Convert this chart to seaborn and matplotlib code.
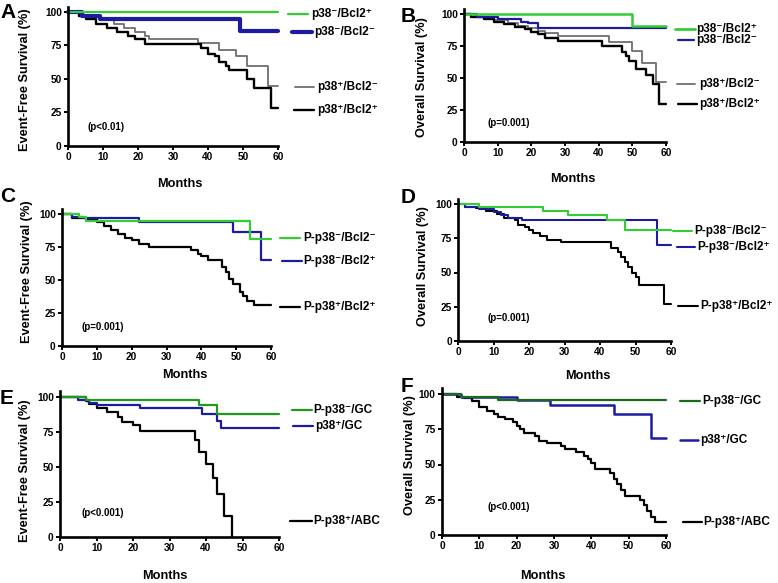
import matplotlib
matplotlib.use("Agg")
import matplotlib.pyplot as plt
from matplotlib.lines import Line2D
import seaborn as sns
import pandas as pd

# ---------------- data (Kaplan-Meier step points: month, survival %) ----------------
A_GREEN_T = [0, 60];                      A_GREEN_S = [100, 100]
A_BLUE_T = [0, 4, 9, 49, 60];              A_BLUE_S = [100, 97, 95, 86, 86]
A_GRAY_T = [0, 3, 6, 9, 13, 16, 19, 22, 23, 37, 43, 48, 51, 57, 60]
A_GRAY_S = [100, 98, 96, 94, 91, 88, 85, 82, 80, 77, 72, 67, 60, 45, 45]
A_BLACK_T = [0, 3, 5, 8, 11, 14, 17, 19, 22, 38, 40, 42, 43, 45, 46, 51, 53, 58, 60]
A_BLACK_S = [100, 97, 95, 91, 88, 85, 82, 80, 76, 73, 69, 67, 63, 60, 57, 50, 43, 28, 28]

B_GREEN_T = [0, 50, 60];                   B_GREEN_S = [100, 91, 91]
B_BLUE_T = [0, 4, 10, 17, 19, 22, 60];     B_BLUE_S = [100, 98, 96, 94, 93, 89, 89]
B_GRAY_T = [0, 3, 6, 9, 13, 16, 19, 22, 24, 28, 43, 50, 53, 57, 60]
B_GRAY_S = [100, 98, 96, 95, 93, 91, 89, 87, 85, 83, 78, 71, 62, 47, 47]
B_BLACK_T = [0, 2, 6, 9, 12, 15, 18, 20, 22, 24, 28, 41, 47, 48, 49, 51, 54, 56, 58, 60]
B_BLACK_S = [100, 98, 96, 94, 92, 90, 88, 86, 84, 81, 79, 75, 70, 67, 63, 57, 52, 45, 30, 30]

C_GREEN_T = [0, 5, 7, 54, 60];             C_GREEN_S = [100, 98, 95, 81, 81]
C_BLUE_T = [0, 3, 6, 22, 49, 57, 60];      C_BLUE_S = [100, 98, 97, 94, 86, 65, 65]
C_BLACK_T = [0, 3, 7, 10, 12, 14, 16, 18, 20, 22, 25, 37, 39, 40, 42, 46, 47, 48, 49, 51, 52, 53, 55, 60]
C_BLACK_S = [100, 97, 96, 94, 91, 88, 85, 82, 80, 77, 75, 73, 70, 68, 65, 60, 56, 51, 47, 41, 38, 34, 31, 31]

D_GREEN_T = [0, 6, 24, 31, 42, 47, 60];    D_GREEN_S = [100, 98, 95, 92, 88, 81, 81]
D_BLUE_T = [0, 2, 6, 10, 12, 14, 18, 56, 60]
D_BLUE_S = [100, 98, 96, 94, 92, 90, 88, 70, 70]
D_BLACK_T = [0, 2, 5, 8, 11, 13, 16, 17, 19, 20, 21, 23, 25, 29, 43, 45, 46, 47, 48, 49, 50, 51, 58, 60]
D_BLACK_S = [100, 98, 97, 95, 93, 90, 88, 85, 83, 81, 79, 77, 74, 72, 68, 65, 61, 58, 54, 50, 47, 41, 27, 27]

E_GREEN_T = [0, 7, 38, 43, 60];            E_GREEN_S = [100, 98, 94, 88, 88]
E_BLUE_T = [0, 5, 8, 10, 22, 39, 43, 44, 60]
E_BLUE_S = [100, 98, 96, 94, 92, 88, 83, 78, 78]
E_BLACK_T = [0, 7, 8, 10, 13, 16, 17, 20, 22, 37, 38, 40, 42, 43, 45, 47]
E_BLACK_S = [100, 97, 95, 92, 89, 86, 82, 80, 76, 69, 61, 52, 42, 31, 15, 0]

F_GREEN_T = [0, 5, 15, 60];                F_GREEN_S = [100, 98, 96, 96]
F_BLUE_T = [0, 5, 20, 29, 46, 56, 60];     F_BLUE_S = [100, 98, 96, 92, 86, 69, 69]
F_BLACK_T = [0, 4, 6, 8, 10, 12, 14, 15, 17, 19, 20, 21, 22, 25, 26, 28, 32, 33, 36, 38,
             39, 40, 41, 45, 46, 47, 48, 49, 53, 54, 55, 56, 57, 60]
F_BLACK_S = [100, 98, 97, 95, 91, 88, 86, 84, 82, 80, 77, 75, 72, 70, 67, 65, 63, 61, 59, 56,
             54, 51, 47, 44, 40, 36, 32, 28, 25, 21, 17, 13, 9, 9]

X_TICKS = [0, 10, 20, 30, 40, 50, 60]
Y_TICKS = [0, 25, 50, 75, 100]

LABELS_AB = ["p38\u207b/Bcl2\u207a", "p38\u207b/Bcl2\u207b", "p38\u207a/Bcl2\u207b", "p38\u207a/Bcl2\u207a"]
LABELS_CD = ["P-p38\u207b/Bcl2\u207b", "P-p38\u207b/Bcl2\u207a", "P-p38\u207a/Bcl2\u207a"]
LABELS_EF = ["P-p38\u207b/GC", "p38\u207a/GC", "P-p38\u207a/ABC"]
P_VALUES = ["(p<0.01)", "(p=0.001)", "(p=0.001)", "(p=0.001)", "(p<0.001)", "(p<0.001)"]
Y_LABELS = ["Event-Free Survival (%)", "Overall Survival (%)"] * 3
PANEL_LETTERS = ["A", "B", "C", "D", "E", "F"]

# ---------------- style ----------------
sns.set_style("ticks")
plt.rcParams["font.family"] = ["Liberation Sans", "DejaVu Sans"]
plt.rcParams["font.weight"] = "bold"
for key in ["text.color", "axes.labelcolor", "xtick.color", "ytick.color", "axes.edgecolor"]:
    plt.rcParams[key] = "black"

W, H = 778, 583
fig = plt.figure(figsize=(W / 100, H / 100), dpi=100)
fig.patch.set_facecolor("white")

GREEN = "#33cc33"
GREEN_E = "#1f9a1f"
GREEN_F = "#1b6b1b"
BLUE = "#1c1ca0"
GRAY = "#6e6e6e"
BLACK = "#000000"
YTOP = 104


def fx(x):
    return x / W


def fy(y):
    return 1 - y / H


def make_axes(x0, x60, y0, y100):
    top = y100 - (YTOP - 100) / 100 * (y0 - y100)
    ax = fig.add_axes([fx(x0), fy(y0), (x60 - x0) / W, (y0 - top) / H])
    ax.set_xlim(0, 60)
    ax.set_ylim(0, YTOP)
    ax.set_xticks(X_TICKS)
    ax.set_yticks(Y_TICKS)
    sns.despine(ax=ax)
    for s in ["left", "bottom"]:
        ax.spines[s].set_linewidth(1.9)
        ax.spines[s].set_color("black")
    ax.tick_params(direction="out", length=3, width=1.4, labelsize=7.3, pad=1.5,
                   colors="black", labelcolor="black")
    for lab in ax.get_xticklabels() + ax.get_yticklabels():
        lab.set_fontweight("bold")
    ax.set_facecolor("white")
    return ax


def curve(ax, t, s, color, lw):
    df = pd.DataFrame({"Months": t, "Survival": s})
    sns.lineplot(data=df, x="Months", y="Survival", ax=ax, color=color, linewidth=lw,
                 drawstyle="steps-post", estimator=None, legend=False, clip_on=False)


def legend_entry(x1, x2, y, xt, text, color, lw):
    fig.add_artist(Line2D([fx(x1), fx(x2)], [fy(y), fy(y)], transform=fig.transFigure,
                          color=color, linewidth=lw))
    fig.text(fx(xt), fy(y), text, ha="left", va="center", fontsize=8.5,
             fontweight="bold", color="black")


def labels(ax, i, ylab_xy, xlab_xy, letter_xy, p_xy):
    ax.set_ylabel(Y_LABELS[i], fontsize=9.2, fontweight="bold", va="center", ha="center",
                  color="black")
    ax.yaxis.set_label_coords(fx(ylab_xy[0]), fy(ylab_xy[1]), transform=fig.transFigure)
    ax.set_xlabel("Months", fontsize=9.2, fontweight="bold", va="center", ha="center",
                  color="black")
    ax.xaxis.set_label_coords(fx(xlab_xy[0]), fy(xlab_xy[1]), transform=fig.transFigure)
    fig.text(fx(letter_xy[0]), fy(letter_xy[1]), PANEL_LETTERS[i], fontsize=15,
             fontweight="bold", ha="center", va="center", color="black")
    fig.text(fx(p_xy[0]), fy(p_xy[1]), P_VALUES[i], fontsize=7, fontweight="bold",
             ha="left", va="center", color="black")


# ---------------- Panel A ----------------
ax = make_axes(68, 278, 146, 12)
curve(ax, A_GRAY_T, A_GRAY_S, GRAY, 1.3)
curve(ax, A_BLACK_T, A_BLACK_S, BLACK, 1.7)
curve(ax, A_BLUE_T, A_BLUE_S, BLUE, 3.0)
curve(ax, A_GREEN_T, A_GREEN_S, GREEN, 1.6)
labels(ax, 0, (25, 80), (180, 184), (8, 13), (88, 127))
legend_entry(288, 308, 14, 311, LABELS_AB[0], GREEN, 1.6)
legend_entry(292, 312, 32, 314, LABELS_AB[1], BLUE, 3.0)
legend_entry(295, 314, 87, 317, LABELS_AB[2], GRAY, 1.3)
legend_entry(294, 314, 110, 317, LABELS_AB[3], BLACK, 1.7)

# ---------------- Panel B ----------------
ax = make_axes(464, 666, 142, 14)
curve(ax, B_GRAY_T, B_GRAY_S, GRAY, 1.3)
curve(ax, B_BLACK_T, B_BLACK_S, BLACK, 1.7)
curve(ax, B_BLUE_T, B_BLUE_S, BLUE, 1.6)
curve(ax, B_GREEN_T, B_GREEN_S, GREEN, 1.8)
labels(ax, 1, (422, 77), (573, 179), (408, 17), (488, 123))
legend_entry(675, 695, 29, 696, LABELS_AB[0], GREEN, 2.0)
legend_entry(678, 694, 40, 696, LABELS_AB[1], BLUE, 1.6)
legend_entry(677, 695, 84, 699, LABELS_AB[2], GRAY, 1.3)
legend_entry(678, 697, 104, 699, LABELS_AB[3], BLACK, 1.7)

# ---------------- Panel C ----------------
ax = make_axes(62, 271, 346, 214)
curve(ax, C_BLACK_T, C_BLACK_S, BLACK, 1.6)
curve(ax, C_BLUE_T, C_BLUE_S, BLUE, 1.6)
curve(ax, C_GREEN_T, C_GREEN_S, GREEN, 1.6)
labels(ax, 2, (27, 272), (185, 375), (8, 197), (82, 327))
legend_entry(280, 300, 238, 303, LABELS_CD[0], GREEN, 1.6)
legend_entry(282, 302, 261, 303, LABELS_CD[1], BLUE, 1.6)
legend_entry(280, 300, 307, 303, LABELS_CD[2], BLACK, 1.6)

# ---------------- Panel D ----------------
ax = make_axes(458, 671, 341, 204)
curve(ax, D_BLACK_T, D_BLACK_S, BLACK, 1.5)
curve(ax, D_BLUE_T, D_BLUE_S, BLUE, 1.5)
curve(ax, D_GREEN_T, D_GREEN_S, GREEN, 1.5)
labels(ax, 3, (423, 266), (588, 376), (408, 198), (487, 318))
legend_entry(673, 692, 231, 694, LABELS_CD[0], GREEN, 1.5)
legend_entry(677, 695, 247, 697, LABELS_CD[1], BLUE, 1.5)
legend_entry(678, 698, 306, 700, LABELS_CD[2], BLACK, 1.5)

# ---------------- Panel E ----------------
ax = make_axes(60, 279, 537, 397)
curve(ax, E_BLACK_T, E_BLACK_S, BLACK, 1.6)
curve(ax, E_BLUE_T, E_BLUE_S, BLUE, 1.6)
curve(ax, E_GREEN_T, E_GREEN_S, GREEN_E, 1.6)
labels(ax, 4, (25, 471), (165, 576), (7, 398), (82, 513))
legend_entry(292, 312, 410, 313, LABELS_EF[0], GREEN_E, 1.6)
legend_entry(293, 313, 426, 315, LABELS_EF[1], BLUE, 1.6)
legend_entry(290, 312, 521, 313, LABELS_EF[2], BLACK, 1.6)

# ---------------- Panel F ----------------
ax = make_axes(442, 666, 535, 394)
curve(ax, F_BLACK_T, F_BLACK_S, BLACK, 1.6)
curve(ax, F_BLUE_T, F_BLUE_S, BLUE, 1.8)
curve(ax, F_GREEN_T, F_GREEN_S, GREEN_F, 1.6)
labels(ax, 5, (410, 455), (543, 576), (407, 386), (487, 507))
legend_entry(680, 700, 401, 702, LABELS_EF[0], GREEN_F, 1.6)
legend_entry(680, 698, 440, 700, LABELS_EF[1], BLUE, 1.8)
legend_entry(683, 702, 522, 703, LABELS_EF[2], BLACK, 1.6)

fig.savefig("out.png", dpi=100, facecolor="white")
